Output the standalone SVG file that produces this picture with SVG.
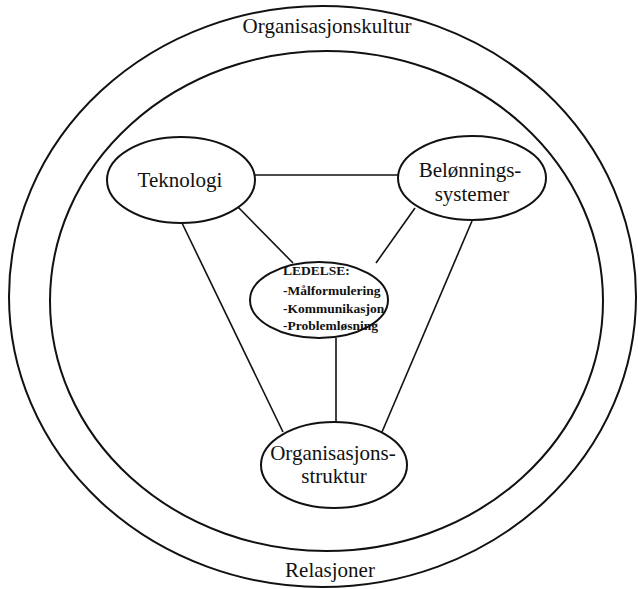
<svg xmlns="http://www.w3.org/2000/svg" width="638" height="589" viewBox="0 0 638 589">
<style>
.ring{fill:none;stroke:#111;stroke-width:2}
.node{fill:#fff;stroke:#111;stroke-width:2}
.edge{stroke:#111;stroke-width:1.6;fill:none}
.t{font-family:"Liberation Serif","Times New Roman",serif;font-size:21px;fill:#111;text-anchor:middle}
.s{font-family:"Liberation Serif","Times New Roman",serif;font-size:13.5px;font-weight:bold;fill:#111}
</style>
<rect width="638" height="589" fill="#fff"/>
<g id="outer">
<ellipse class="ring" cx="322.5" cy="296.5" rx="313.5" ry="290.5"/>
<text class="t" x="327" y="33">Organisasjonskultur</text>
<text class="t" x="330" y="577">Relasjoner</text>
</g>
<g id="inner">
<ellipse class="ring" cx="326.5" cy="301" rx="276.5" ry="250"/>
</g>
<g id="connectors">
<line class="edge" x1="254" y1="175" x2="399" y2="175"/>
<line class="edge" x1="238" y1="207" x2="293" y2="263"/>
<line class="edge" x1="415" y1="208" x2="376" y2="263"/>
<line class="edge" x1="182" y1="223" x2="283" y2="432"/>
<line class="edge" x1="472" y1="221" x2="382" y2="432"/>
<line class="edge" x1="336" y1="338" x2="336" y2="423"/>
</g>
<g id="teknologi">
<ellipse class="node" cx="181" cy="180" rx="74" ry="43"/>
<text class="t" x="180" y="187">Teknologi</text>
</g>
<g id="belonningssystemer">
<ellipse class="node" cx="472" cy="178" rx="74" ry="42"/>
<text class="t" x="470" y="177">Belønnings-</text>
<text class="t" x="472" y="201">systemer</text>
</g>
<g id="ledelse">
<ellipse class="node" cx="319" cy="300" rx="69" ry="38"/>
<text class="s" x="283" y="275">LEDELSE:</text>
<text class="s" x="283" y="295">-Målformulering</text>
<text class="s" x="283" y="313">-Kommunikasjon</text>
<text class="s" x="283" y="330">-Problemløsning</text>
</g>
<g id="organisasjonsstruktur">
<ellipse class="node" cx="334" cy="465" rx="73" ry="43"/>
<text class="t" x="333" y="460">Organisasjons-</text>
<text class="t" x="334" y="483">struktur</text>
</g>
</svg>
